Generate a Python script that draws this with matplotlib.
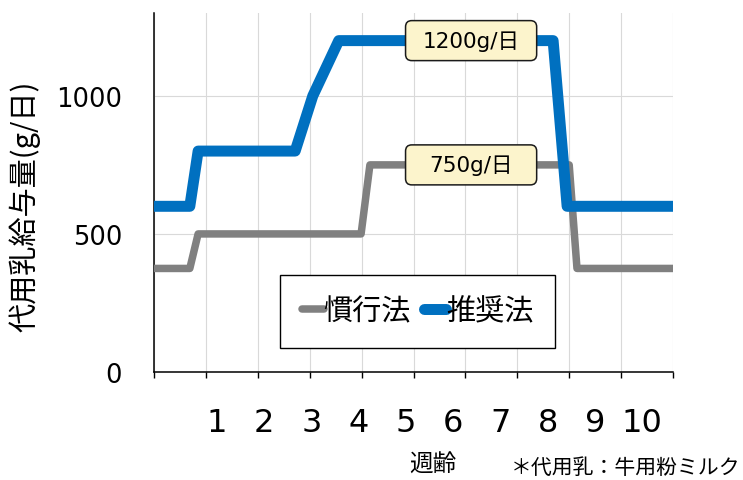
"""
Milk replacer feeding schedule: conventional vs recommended method.
"""
import matplotlib
matplotlib.use('Agg')
import matplotlib.pyplot as plt
import matplotlib.transforms as mtransforms
from matplotlib.patches import FancyBboxPatch

# ── Data ───────────────────────────────────────────────────────────────────────
x_conv = [0, 0.69, 0.85, 3.99, 4.16, 8.0, 8.15, 10]
y_conv = [375, 375, 500, 500, 750, 750, 375, 375]

x_rec = [0, 0.69, 0.85, 2.72, 3.06, 3.56, 7.69, 7.96, 10]
y_rec = [600, 600, 800, 800, 1000, 1200, 1200, 600, 600]

weeks = list(range(1, 11))
week_labels = [str(w) for w in weeks]
y_ticks = [0, 500, 1000]

series_names = ['慣行法', '推奨法']
notes = [('1200g/日', 6.11, 1200), ('750g/日', 6.11, 750)]

# ── Style ──────────────────────────────────────────────────────────────────────
GRAY = '#808080'
BLUE = '#0070C0'
GRID = '#d9d9d9'
BOX_FACE = '#FCF4CC'
CJK = 'Noto Sans CJK JP'
MIXED = ['DejaVu Sans', CJK]
LABEL_X0, LABEL_STEP = 1.21, 0.911   # week labels sit off the grid lines

plt.rcParams['font.family'] = MIXED

fig = plt.figure(figsize=(7.43, 4.81), dpi=100)
ax = fig.add_axes([154 / 743, 108 / 481, 519 / 743, 359 / 481])

ax.plot(x_conv, y_conv, color=GRAY, lw=5.4, solid_joinstyle='round',
        solid_capstyle='round', label=series_names[0], zorder=3)
ax.plot(x_rec, y_rec, color=BLUE, lw=7.9, solid_joinstyle='round',
        solid_capstyle='round', label=series_names[1], zorder=4)

ax.set_xlim(0, 10)
ax.set_ylim(0, 1300)
ax.set_xticks(range(0, 11))
ax.set_xticklabels([])
ax.set_yticks(y_ticks)
ax.set_yticklabels([str(v) for v in y_ticks], fontsize=18.5,
                   family='DejaVu Sans')
ax.tick_params(axis='x', direction='out', length=4, width=1, color='black')
ax.tick_params(axis='y', length=0, pad=23)
ax.grid(True, color=GRID, lw=0.8, zorder=0)
ax.set_axisbelow(True)
for side in ('top', 'right'):
    ax.spines[side].set_visible(False)
for side in ('left', 'bottom'):
    ax.spines[side].set_color('black')
    ax.spines[side].set_linewidth(1.1)

# week labels on a secondary axis, shifted from the grid
sec = ax.secondary_xaxis(
    'bottom',
    functions=(lambda x: (x - LABEL_X0) / LABEL_STEP + 1,
               lambda k: LABEL_X0 + LABEL_STEP * (k - 1)))
sec.set_xticks(weeks)
sec.set_xticklabels(week_labels, fontsize=23, family='DejaVu Sans')
sec.tick_params(length=0, pad=25)
sec.spines['bottom'].set_visible(False)

# value callouts with fixed-size rounded boxes
for txt, xv, yv in notes:
    tr = (mtransforms.Affine2D().scale(fig.dpi / 72)
          + mtransforms.ScaledTranslation(xv, yv, ax.transData))
    box = FancyBboxPatch((-47.2, -14.4), 94.4, 28.8,
                         boxstyle='round,pad=0,rounding_size=4.5',
                         facecolor=BOX_FACE, edgecolor='#1a1a1a', lw=1.1,
                         transform=tr, zorder=5, clip_on=False)
    ax.add_patch(box)
    ax.text(xv, yv, txt, ha='center', va='center', fontsize=15.5,
            family=MIXED, zorder=6)

leg = ax.legend(loc='center', bbox_to_anchor=(0.508, 0.168), ncol=2,
                prop={'family': CJK, 'size': 21}, frameon=True,
                fancybox=False, framealpha=1, edgecolor='black',
                handlelength=0.75, handletextpad=0.0, columnspacing=0.45,
                borderpad=0.74)
leg.get_frame().set_linewidth(1.0)
leg.set_zorder(7)

ax.set_ylabel('代用乳給与量(g/日)', family=CJK, fontsize=21, va='center')
ax.yaxis.set_label_coords(-0.2486, 0.465)
ax.set_xlabel('週齢', family=CJK, fontsize=17, va='center')
ax.xaxis.set_label_coords(0.5376, -0.258)

fig.text(511 / 743, 1 - 468 / 481, '＊代用乳：牛用粉ミルク', family=CJK,
         fontsize=15, ha='left', va='center')

fig.savefig('out.png', dpi=100)
